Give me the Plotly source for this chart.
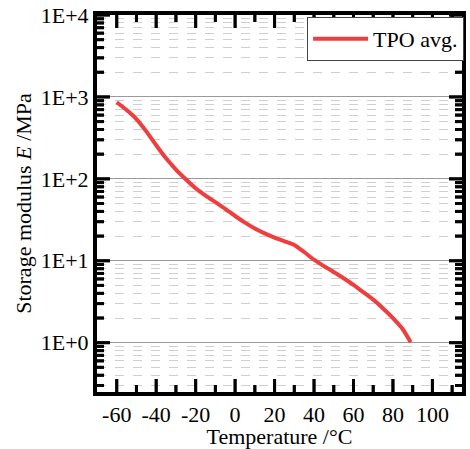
import math
import plotly.graph_objects as go

# Data
temperature_c = [-60, -55, -50, -45, -40, -35, -30, -25, -20, -15, -10, -5, 0, 5, 10,
                 15, 20, 25, 30, 35, 40, 45, 50, 55, 60, 65, 70, 75, 80, 85, 89]
storage_modulus_mpa = [861, 692, 537, 380, 257, 178, 130, 98.9, 76.7, 62.4, 51.9, 43.0, 35.2, 29.2, 24.8,
                       21.6, 19.2, 17.3, 15.6, 12.8, 10.3, 8.6, 7.3, 6.12, 5.08, 4.13, 3.35, 2.62, 2.0, 1.46, 1.01]
series_name = "TPO avg."

x_range = [-70, 115]
x_tick_vals = [-60, -40, -20, 0, 20, 40, 60, 80, 100]
x_tick_text = ["-60", "-40", "-20", "0", "20", "40", "60", "80", "100"]
x_minor_vals = [-50, -30, -10, 10, 30, 50, 70, 90, 110]
y_log_range = [-0.602, 4]
y_tick_vals = [1, 10, 100, 1000, 10000]
y_tick_text = ["1E+0", "1E+1", "1E+2", "1E+3", "1E+4"]
y_minor_vals = [m * 10 ** k for k in range(-1, 4) for m in range(2, 10)]

FONT = "Liberation Serif, Times New Roman, serif"
W, H = 470, 449
M = dict(l=97, r=7, t=15, b=57)
MAJOR_LEN, MINOR_LEN = 13, 7
TICK_W = 3

# pixel scales of the plotting area (used only to size the tick marks)
px_per_x = (W - M["l"] - M["r"]) / (x_range[1] - x_range[0])
px_per_dec = (H - M["t"] - M["b"]) / (y_log_range[1] - y_log_range[0])

fig = go.Figure()
fig.add_trace(go.Scatter(
    x=temperature_c, y=storage_modulus_mpa, mode="lines", name=series_name,
    line=dict(color="#EF3E3E", width=4, shape="spline", smoothing=0.6),
))

# tick marks (inside, on all four sides), drawn as short line segments
sides = {"bottom": ([], []), "top": ([], []), "left": ([], []), "right": ([], [])}
# and again as line-shaped markers centred half a tick length inside the frame
mk = {"ns": ([], [], []), "ew": ([], [], [])}
for vals, ln in ((x_tick_vals, MAJOR_LEN), (x_minor_vals, MINOR_LEN)):
    dy = ln / px_per_dec
    for v in vals:
        if not (x_range[0] < v < x_range[1]):
            continue
        sides["bottom"][0].extend([v, v, None])
        sides["bottom"][1].extend([10 ** y_log_range[0], 10 ** (y_log_range[0] + dy), None])
        sides["top"][0].extend([v, v, None])
        sides["top"][1].extend([10 ** (y_log_range[1] - dy), 10 ** y_log_range[1], None])
        for yc in (y_log_range[0] + dy / 2, y_log_range[1] - dy / 2):
            mk["ns"][0].append(v)
            mk["ns"][1].append(10 ** yc)
            mk["ns"][2].append(ln / 1.41)
for vals, ln in ((y_tick_vals, MAJOR_LEN), (y_minor_vals, MINOR_LEN)):
    dx = ln / px_per_x
    for v in vals:
        lv = math.log10(v)
        if not (y_log_range[0] < lv <= y_log_range[1] + 1e-9):
            continue
        sides["left"][0].extend([x_range[0], x_range[0] + dx, None])
        sides["left"][1].extend([v, v, None])
        sides["right"][0].extend([x_range[1] - dx, x_range[1], None])
        sides["right"][1].extend([v, v, None])
        for xc in (x_range[0] + dx / 2, x_range[1] - dx / 2):
            mk["ew"][0].append(xc)
            mk["ew"][1].append(v)
            mk["ew"][2].append(ln / 1.41)

for name, (sx, sy) in sides.items():
    fig.add_trace(go.Scatter(
        x=sx, y=sy, mode="lines", showlegend=False, hoverinfo="skip", name=name,
        line=dict(color="black", width=TICK_W, simplify=False), connectgaps=False,
    ))
for sym, (sx, sy, ss) in mk.items():
    fig.add_trace(go.Scatter(
        x=sx, y=sy, mode="markers", showlegend=False, hoverinfo="skip", cliponaxis=False,
        marker=dict(symbol="line-" + sym, size=ss, color="black",
                    line=dict(color="black", width=TICK_W)),
    ))

fig.update_layout(
    template="none",
    width=W, height=H,
    margin=M,
    paper_bgcolor="white", plot_bgcolor="white",
    font=dict(family=FONT, size=22, color="black"),
    showlegend=True,
    legend=dict(x=1.003, xanchor="right", y=0.995, yanchor="top",
                bgcolor="white", bordercolor="#444", borderwidth=1,
                font=dict(family=FONT, size=22), itemwidth=55,
                tracegroupgap=0),
)

fig.update_xaxes(
    range=x_range, tickmode="array", tickvals=x_tick_vals, ticktext=x_tick_text,
    showline=True, linewidth=4, linecolor="black", mirror=True,
    ticks="", showgrid=False, zeroline=False,
    tickfont=dict(family=FONT, size=22),
    title=dict(text="Temperature /°C", font=dict(family=FONT, size=22), standoff=4),
)

fig.update_yaxes(
    type="log", range=y_log_range,
    tickmode="array", tickvals=y_tick_vals, ticktext=y_tick_text,
    showline=True, linewidth=4, linecolor="black", mirror=True,
    ticks="",
    showgrid=True, gridcolor="#9a9a9a", gridwidth=1,
    zeroline=False,
    tickfont=dict(family=FONT, size=22),
    title=dict(text="Storage modulus <i>E</i> /MPa", font=dict(family=FONT, size=22), standoff=4),
    minor=dict(tickmode="array", tickvals=y_minor_vals, ticks="",
               showgrid=True, gridcolor="#cfcfcf", gridwidth=1, griddash="dash"),
)

fig.write_html("out.html")
